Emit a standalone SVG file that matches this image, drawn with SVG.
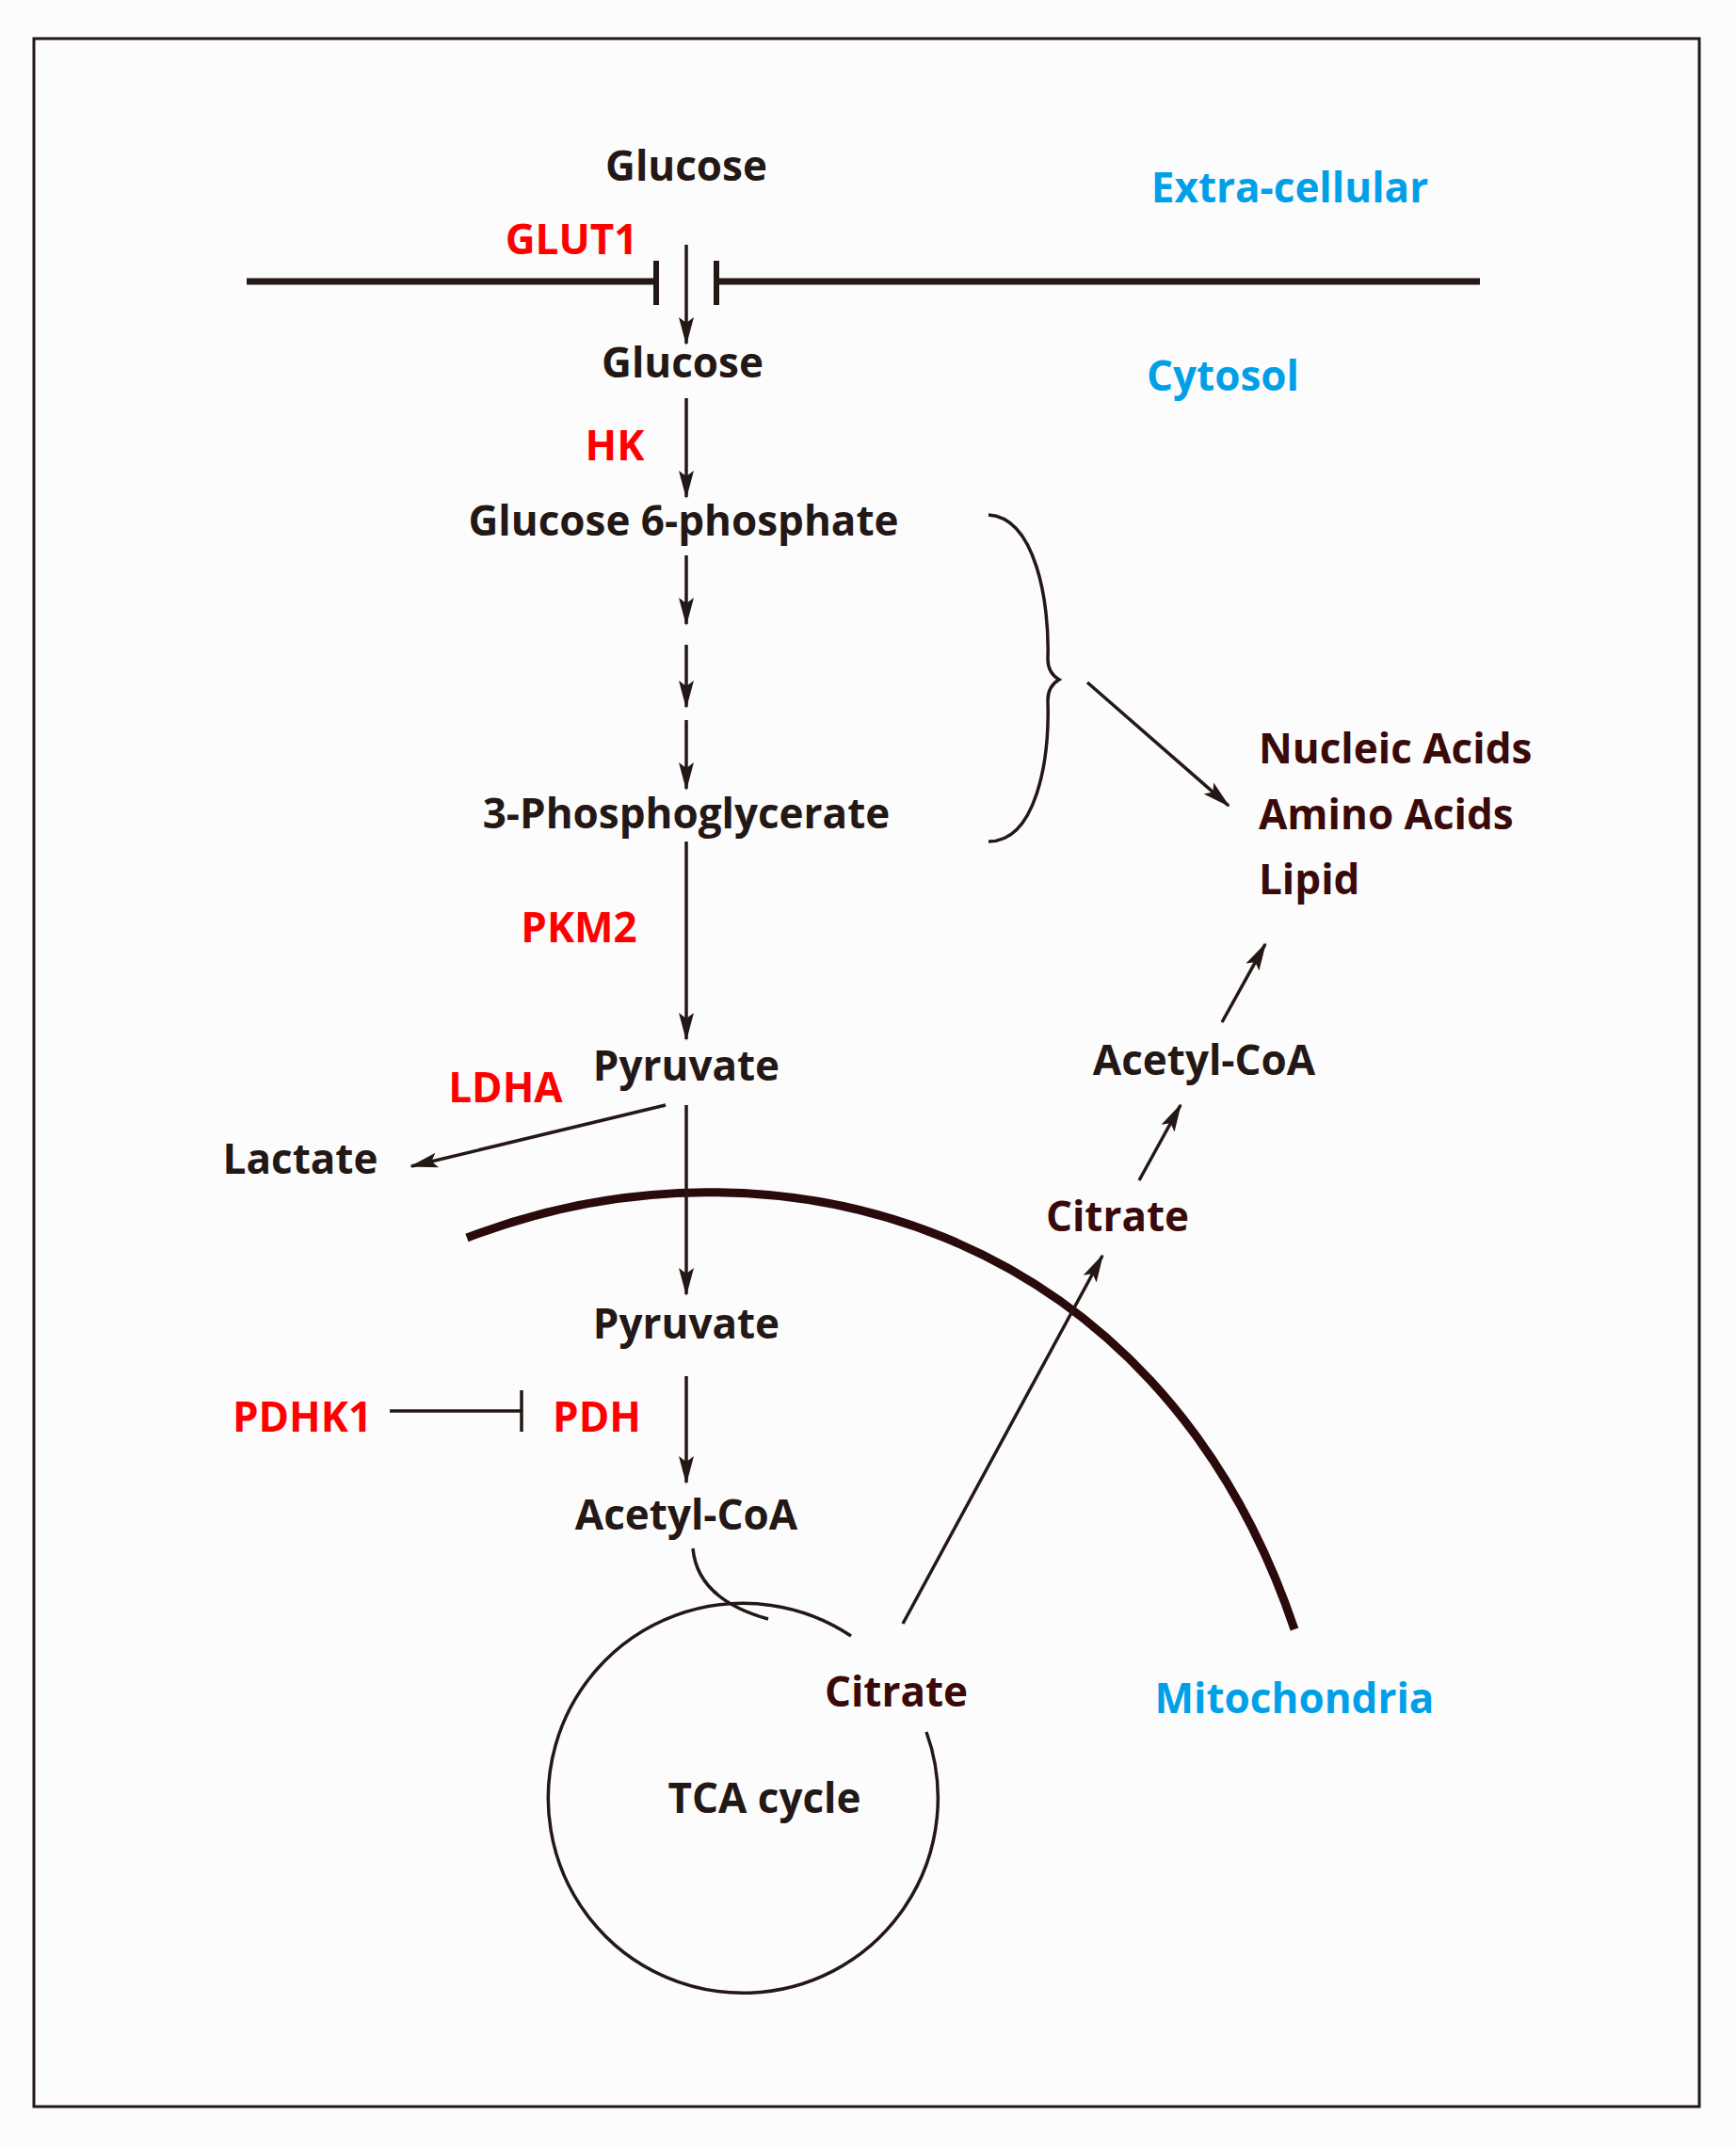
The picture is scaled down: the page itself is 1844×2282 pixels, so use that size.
<svg xmlns="http://www.w3.org/2000/svg" width="1844" height="2282" viewBox="0 0 1844 2282">
<style>
text{font-family:"Open Sans","Noto Sans",sans-serif;font-weight:bold;font-size:44px;text-anchor:middle}
.k{fill:#231815}.r{fill:#ff0000}.b{fill:#00a0e9}.d{fill:#3a0a0a}
.ln{stroke:#231815;stroke-width:3.5;fill:none}
.ar{marker-end:url(#ah)}
</style>
<defs><marker id="ah" markerWidth="12" markerHeight="10" refX="11" refY="5" orient="auto" markerUnits="userSpaceOnUse" viewBox="0 0 12 10"><path d="M0,0 L12,5 L0,10 L3,5 Z" fill="#231815"/></marker>
<marker id="ah2" markerWidth="30" markerHeight="20" refX="28" refY="10" orient="auto" markerUnits="userSpaceOnUse" viewBox="0 0 30 20"><path d="M0,2 L30,10 L0,18 L6,10 Z" fill="#231815"/></marker></defs>
<rect x="0" y="0" width="1844" height="2282" fill="#fdfcfc"/>
<rect x="36" y="41" width="1769" height="2197" fill="none" stroke="#231815" stroke-width="3"/>
<g id="membrane"><path d="M262,299 H697 M761,299 H1572" stroke="#231815" stroke-width="7"/><path d="M697,277 V324 M761,277 V324" stroke="#231815" stroke-width="6"/></g>
<g id="mito-membrane"><path d="M496,1315 C820,1190 1230,1300 1375,1731" stroke="#2a0a0a" stroke-width="9" fill="none"/></g>
<g id="connectors">
<g style="marker-end:url(#ah2)" class="ln">
<path d="M729,260 V365"/><path d="M729,423 V528"/>
<path d="M729,590 V663"/><path d="M729,685 V751"/><path d="M729,765 V838"/>
<path d="M729,894 V1104"/>
<path d="M707,1174 L437,1239"/>
<path d="M729,1174 V1375"/>
<path d="M729,1462 V1575"/>
<path d="M1155,725 L1305,856"/>
<path d="M959,1725 L1171,1334"/>
<path d="M1210,1254 L1254,1174"/>
<path d="M1298,1086 L1344,1003"/>
</g>
<path class="ln" d="M414,1499 H554 M554,1477 V1521"/>
<path class="ln" d="M1050,547 C1100,550 1115,640 1113,700 Q1113,715 1125,722 Q1113,729 1113,744 C1115,810 1100,894 1050,894"/>
<path class="ln" d="M736,1645 C740,1690 780,1710 816,1720"/>
</g>
<g id="tca"><path class="ln" d="M904,1738 A207,207 0 1 0 984,1840"/><text x="812" y="1926" class="k">TCA cycle</text></g>
<g id="n-glucose1"><text x="729" y="192" class="k">Glucose</text></g>
<g id="n-extra"><text x="1370" y="215" class="b">Extra-cellular</text></g>
<g id="n-glut1"><text x="607" y="270" class="r">GLUT1</text></g>
<g id="n-glucose2"><text x="725" y="401" class="k">Glucose</text></g>
<g id="n-cytosol"><text x="1299" y="415" class="b">Cytosol</text></g>
<g id="n-hk"><text x="653" y="489" class="r">HK</text></g>
<g id="n-g6p"><text x="726" y="569" class="k">Glucose 6-phosphate</text></g>
<g id="n-3pg"><text x="729" y="880" class="k">3-Phosphoglycerate</text></g>
<g id="n-products"><text x="1337" y="811" class="d" style="text-anchor:start">Nucleic Acids</text><text x="1337" y="881" class="d" style="text-anchor:start">Amino Acids</text><text x="1337" y="950" class="d" style="text-anchor:start">Lipid</text></g>
<g id="n-pkm2"><text x="615" y="1001" class="r">PKM2</text></g>
<g id="n-pyruvate1"><text x="729" y="1148" class="k">Pyruvate</text></g>
<g id="n-ldha"><text x="537" y="1171" class="r">LDHA</text></g>
<g id="n-lactate"><text x="319" y="1247" class="k">Lactate</text></g>
<g id="n-pyruvate2"><text x="729" y="1422" class="k">Pyruvate</text></g>
<g id="n-pdhk1"><text x="321" y="1521" class="r">PDHK1</text></g>
<g id="n-pdh"><text x="634" y="1521" class="r">PDH</text></g>
<g id="n-acetyl1"><text x="729" y="1625" class="k">Acetyl-CoA</text></g>
<g id="n-citrate1"><text x="952" y="1813" class="d">Citrate</text></g>
<g id="n-citrate2"><text x="1187" y="1308" class="d">Citrate</text></g>
<g id="n-acetyl2"><text x="1279" y="1142" class="k">Acetyl-CoA</text></g>
<g id="n-mito"><text x="1375" y="1820" class="b">Mitochondria</text></g>
</svg>
